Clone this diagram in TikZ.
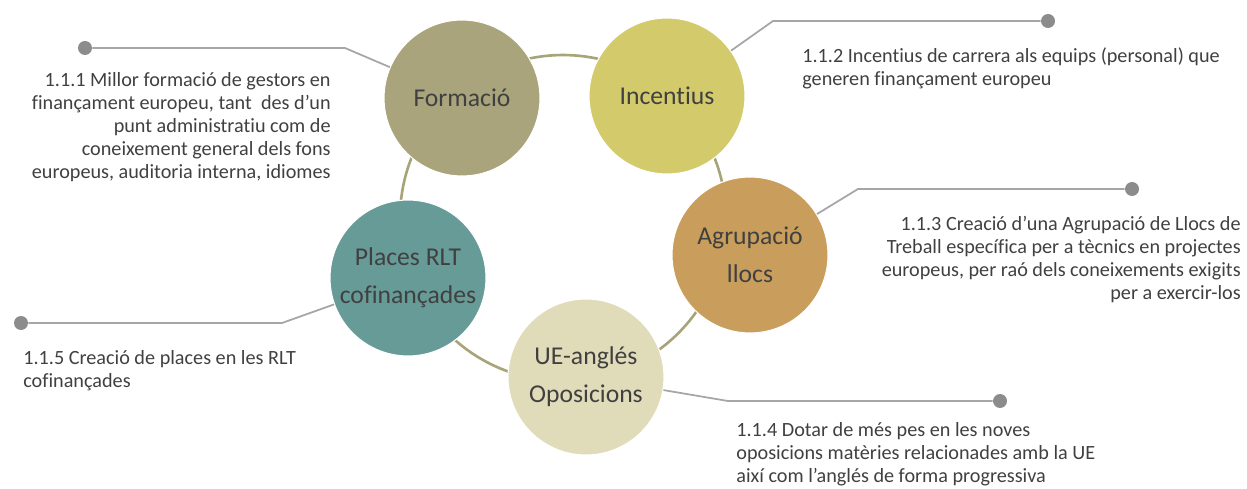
\documentclass[tikz,border=0pt]{standalone}
\usepackage{fontspec}
\setmainfont{Carlito}[Ligatures=CommonOff]
\usetikzlibrary{positioning}

\definecolor{formcol}{RGB}{169,164,123}
\definecolor{inccol}{RGB}{211,203,107}
\definecolor{agrcol}{RGB}{201,158,92}
\definecolor{placol}{RGB}{103,155,152}
\definecolor{uecol}{RGB}{224,220,185}
\definecolor{ringcol}{RGB}{168,164,122}
\definecolor{linecol}{RGB}{166,166,166}
\definecolor{dotcol}{RGB}{140,140,140}
\definecolor{txtcol}{RGB}{64,64,64}

\tikzset{
    bubble/.style={circle, draw=white, line width=0.6pt, minimum size=3.12cm, inner sep=0pt,
        align=center, text=txtcol, font=\fontsize{14.6}{21.5}\selectfont},
    enddot/.style={circle, fill=dotcol, minimum size=0.28cm, inner sep=0pt},
    callout/.style={draw=linecol, line width=1pt},
    notetext/.style={inner sep=0pt, text=txtcol, font=\fontsize{11.5}{13.1}\selectfont}
}

\begin{document}
\begin{tikzpicture}[x=0.02cm, y=-0.02cm]
                        \useasboundingbox (0,0) rectangle (1247,489);
                        % ring behind the bubbles
                        \draw[ringcol, line width=1.5pt] (563,218) circle[radius=3.26cm];
                        \node[bubble, fill=formcol] (form) at (462,98) {Formació};
                        \node[bubble, fill=inccol] (inc) at (667,96) {Incentius};
                        \node[bubble, fill=agrcol] (agr) at (750,255) {Agrupació\\llocs};
                        \node[bubble, fill=uecol] (ue) at (586,377) {UE-anglés\\Oposicions};
                        \node[bubble, fill=placol] (pla) at (408,278) {Places RLT\\cofinançades};
                        % callout ends
                        \node[enddot] (d1) at (85,48) {};
                        \node[enddot] (d2) at (1048,21) {};
                        \node[enddot] (d3) at (1132,189) {};
                        \node[enddot] (d4) at (1000,401) {};
                        \node[enddot] (d5) at (21,323) {};
                        \coordinate (b1) at (345,48);
                        \coordinate (b2) at (773,21);
                        \coordinate (b3) at (858,189);
                        \coordinate (b4) at (728,401);
                        \coordinate (b5) at (282,323);
                        \draw[callout] (form) -- (b1) -- (d1);
                        \draw[callout] (inc) -- (b2) -- (d2);
                        \draw[callout] (agr) -- (b3) -- (d3);
                        \draw[callout] (ue) -- (b4) -- (d4);
                        \draw[callout] (pla) -- (b5) -- (d5);
                        % texts
                        \node[notetext, anchor=north east, align=right] (t1) at (331,72)
                            {1.1.1 Millor formació de gestors en\\finançament europeu, tant~ des d’un\\punt administratiu com de\\coneixement general dels fons\\europeus, auditoria interna, idiomes};
                        \node[notetext, anchor=north west, align=left] (t2) at (802,47)
                            {1.1.2 Incentius de carrera als equips (personal) que\\generen finançament europeu};
                        \node[notetext, anchor=north east, align=right] (t3) at (1241,216)
                            {1.1.3 Creació d’una Agrupació de Llocs de\\Treball específica per a tècnics en projectes\\europeus, per raó dels coneixements exigits\\per a exercir-los};
                        \node[notetext, anchor=north west, align=left] (t4) at (736,422)
                            {1.1.4 Dotar de més pes en les noves\\oposicions matèries relacionades amb la UE\\així com l’anglés de forma progressiva};
                        \node[notetext, anchor=north west, align=left] (t5) at (23,350)
                            {1.1.5 Creació de places en les RLT\\cofinançades};
                    \end{tikzpicture}
\end{document}
